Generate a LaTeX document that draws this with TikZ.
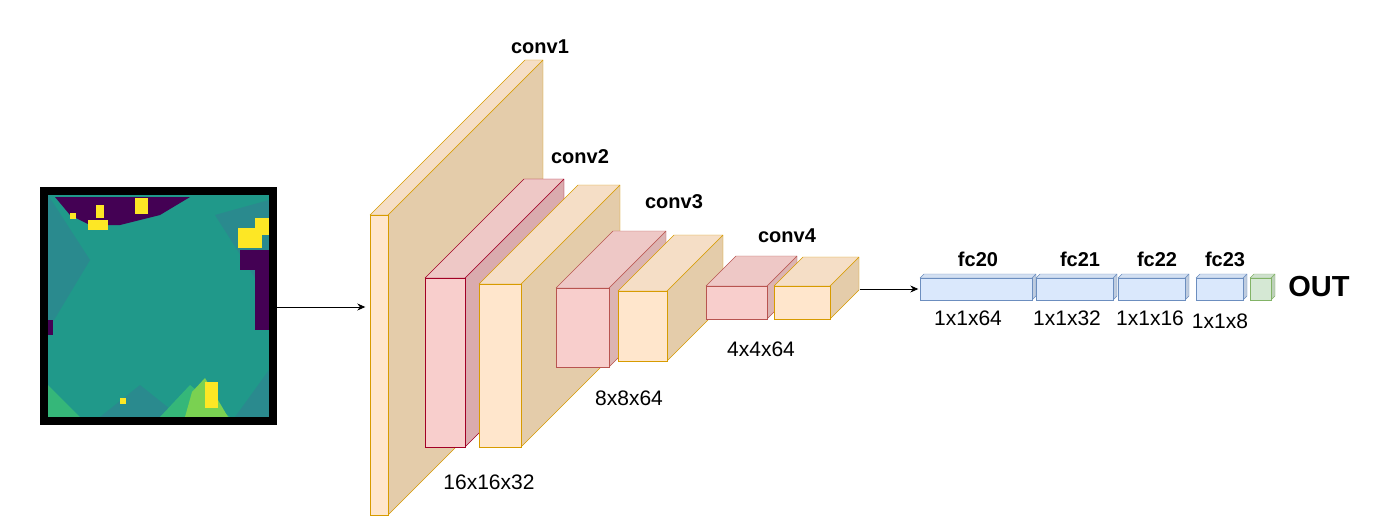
\documentclass[tikz,border=0pt]{standalone}
\usepackage{fontspec}
\setmainfont{Liberation Sans}
\usetikzlibrary{arrows.meta}
\definecolor{ystk}{HTML}{D79B00}\definecolor{yfil}{HTML}{FFE6CC}
\definecolor{pstk}{HTML}{A20025}\definecolor{pstk2}{HTML}{B85450}\definecolor{pfil}{HTML}{F8CECC}
\definecolor{bstk}{HTML}{6C8EBF}\definecolor{bfil}{HTML}{DAE8FC}
\definecolor{gstk}{HTML}{82B366}\definecolor{gfil}{HTML}{D5E8D4}
\definecolor{teal}{HTML}{20998A}\definecolor{teal2}{HTML}{2A8A8E}\definecolor{teal3}{HTML}{35B779}
\definecolor{vpur}{HTML}{440154}\definecolor{vpur2}{HTML}{3B528B}\definecolor{vyel}{HTML}{FDE725}\definecolor{vgrn}{HTML}{7AD151}
% \cub{x1}{y1}{x2}{y2}{d}{stroke}{fill}
\newcommand{\cub}[7]{%
 \draw[#6,fill=#7!80!gray!90!#6,line join=round] (#3,#2)--++(#5,-#5)--++(0,#4-#2)--(#3,#4)--cycle;
 \draw[#6,fill=#7!92!gray,line join=round] (#1,#2)--++(#5,-#5)--++(#3-#1,0)--(#3,#2)--cycle;
 \draw[#6,fill=#7] (#1,#2) rectangle (#3,#4);}
\tikzset{lab/.style={font=\bfseries\fontsize{20}{22}\selectfont},
 dim/.style={font=\fontsize{21}{23}\selectfont},
 arr/.style={-{Stealth[length=8pt,width=7pt]},line width=0.8pt}}
\begin{document}
\begin{tikzpicture}[x=1pt,y=-1pt]
\useasboundingbox (0,0) rectangle (1394,532);
% heatmap
\fill[teal] (48,195) rectangle (269,417);
\fill[teal2] (48,195) -- (90,260) -- (48,330) -- cycle;
\fill[teal2] (269,200) -- (215,215) -- (269,300) -- cycle;
\fill[teal2] (100,417) -- (140,385) -- (180,417) -- cycle;
\fill[teal2] (235,417) -- (269,370) -- (269,417) -- cycle;
\fill[teal3] (48,385) -- (80,417) -- (48,417) -- cycle;
\fill[teal3] (160,417) -- (190,385) -- (230,417) -- cycle;
\fill[vpur] (55,197) -- (190,197) -- (160,215) -- (120,225) -- (90,225) -- (70,215) -- cycle;
\fill[vpur] (240,250) rectangle (269,270); \fill[vpur] (255,270) rectangle (269,330);
\fill[vpur] (48,320) rectangle (53,335);
\fill[vyel] (238,228) rectangle (262,248); \fill[vyel] (255,218) rectangle (269,235);
\fill[vyel] (96,205) rectangle (104,218); \fill[vyel] (135,198) rectangle (148,214);
\fill[vyel] (88,220) rectangle (108,230); \fill[vyel] (70,213) rectangle (76,219);
\fill[vgrn] (192,392) -- (205,378) -- (228,417) -- (185,417) -- cycle;
\fill[vyel] (205,382) rectangle (218,408);
\fill[vyel] (120,398) rectangle (126,404);
\draw[line width=8pt] (44,191) rectangle (273,421);
\node[inner sep=0] (img) at (273,307) {};
% cubes
\cub{370}{215}{388}{515}{155}{ystk}{yfil}
\cub{425}{278}{465}{447}{99}{pstk}{pfil}
\cub{479}{284}{521}{447}{99}{ystk}{yfil}
\cub{556}{288}{609}{367}{57}{pstk2}{pfil}
\cub{618}{291}{667}{361}{56}{ystk}{yfil}
\cub{706}{286}{767}{319}{30}{pstk2}{pfil}
\cub{774}{286}{830}{319}{29}{ystk}{yfil}
\cub{920}{278}{1032}{300}{4}{bstk}{bfil}
\cub{1036}{278}{1113}{300}{4}{bstk}{bfil}
\cub{1118}{278}{1185}{300}{4}{bstk}{bfil}
\cub{1196}{278}{1243}{300}{4}{bstk}{bfil}
\cub{1250}{278}{1271}{300}{4}{gstk}{gfil}
\node[inner sep=0] (c1) at (366,307) {};
\node[inner sep=0] (c4) at (859,289) {};
\node[inner sep=0] (f20) at (919,289) {};
\draw[arr] (img) -- (c1);
\draw[arr] (c4) -- (f20);
% labels
\node[lab] (l1) at (540,47) {conv1};
\node[lab] (l2) at (580,157) {conv2};
\node[lab] (l3) at (674,202) {conv3};
\node[lab] (l4) at (787,236) {conv4};
\node[lab] (l5) at (978,259) {fc20};
\node[lab] (l6) at (1080,259) {fc21};
\node[lab] (l7) at (1157,259) {fc22};
\node[lab] (l8) at (1225,259) {fc23};
\node[font=\bfseries\fontsize{29}{32}\selectfont] (out) at (1319,287) {OUT};
\node[dim] (d1) at (489,482) {16x16x32};
\node[dim] (d2) at (629,398) {8x8x64};
\node[dim] (d3) at (761,349) {4x4x64};
\node[dim] (d4) at (968,318) {1x1x64};
\node[dim] (d5) at (1067,318) {1x1x32};
\node[dim] (d6) at (1150,318) {1x1x16};
\node[dim] (d7) at (1220,321) {1x1x8};
\end{tikzpicture}
\end{document}
